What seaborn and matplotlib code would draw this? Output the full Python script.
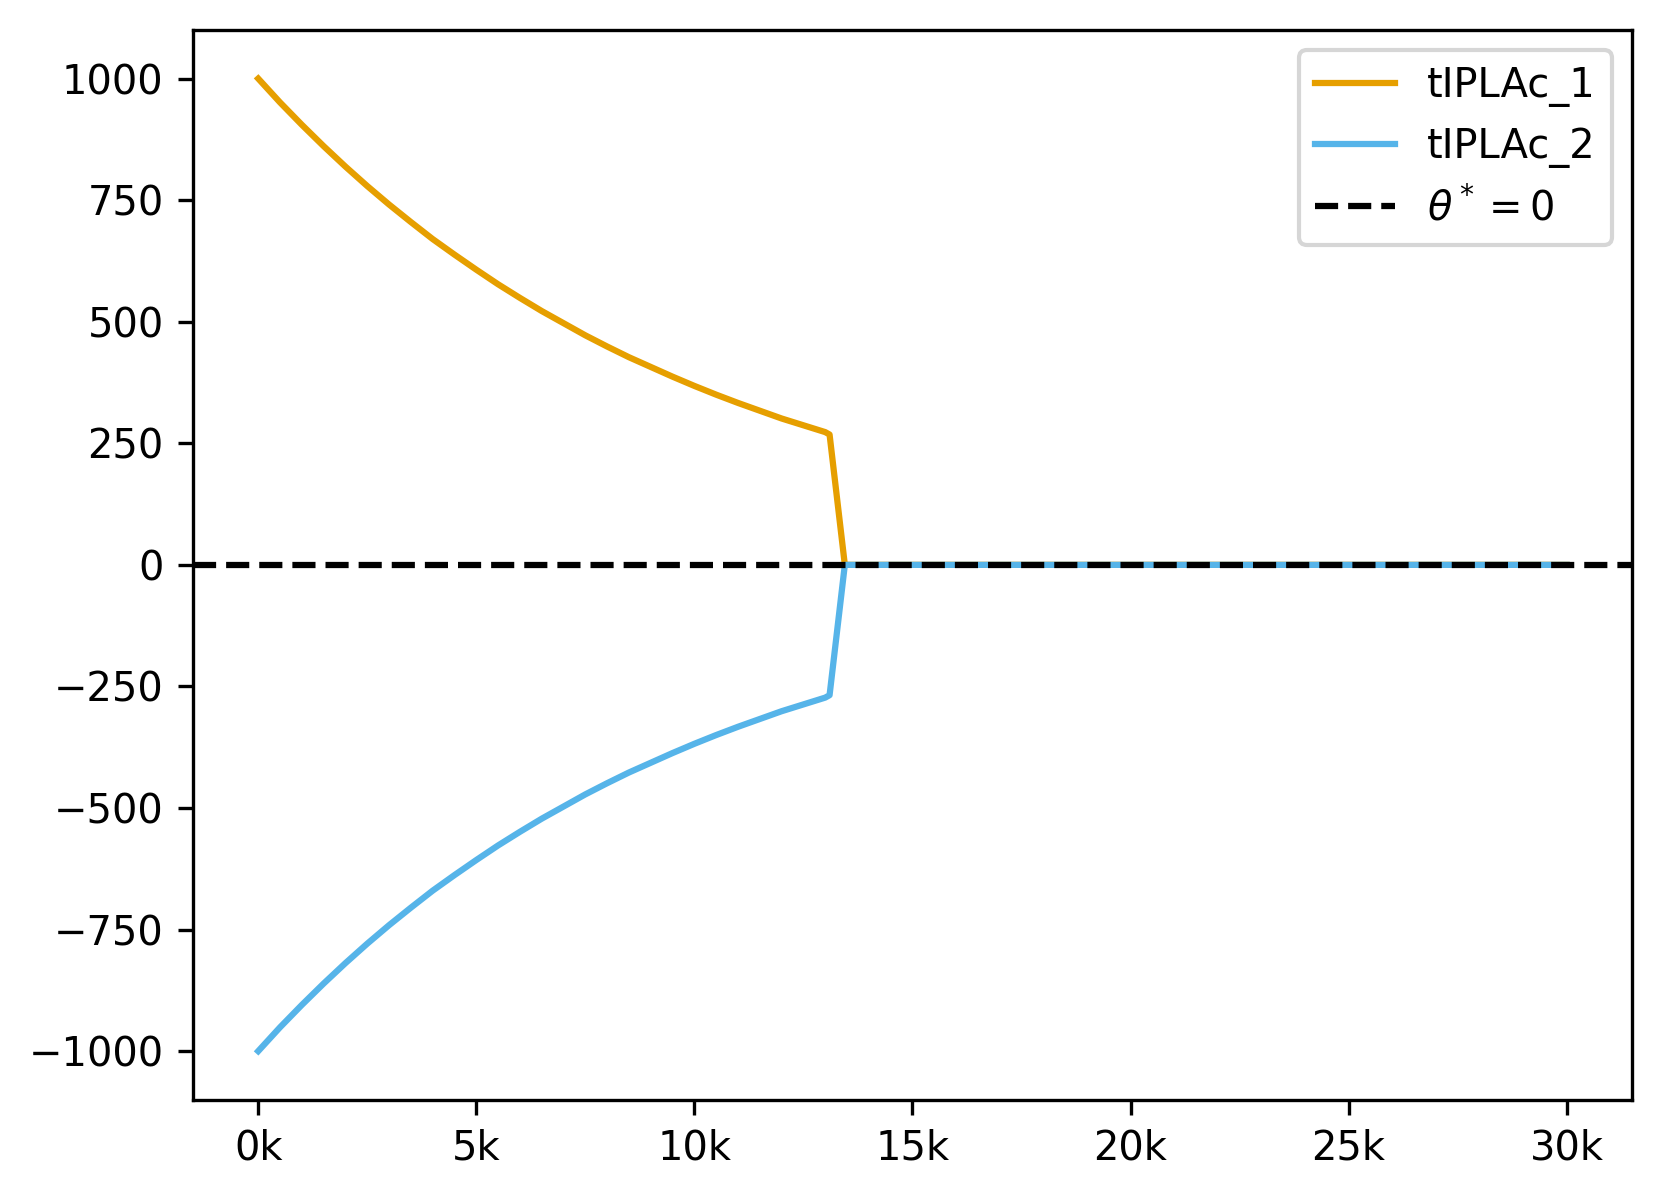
import matplotlib
matplotlib.use("Agg")
import matplotlib.pyplot as plt
import seaborn as sns
import pandas as pd
from matplotlib.ticker import FuncFormatter

steps = [0, 500, 1000, 1500, 2000, 2500, 3000, 3500, 4000, 4500, 5000,
         5500, 6000, 6500, 7000, 7500, 8000, 8500, 9000, 9500, 10000,
         10500, 11000, 11500, 12000, 12500, 13000, 13100, 13450, 30000]
tiplac_1 = [1000, 951, 905, 861, 819, 779, 741, 705, 670, 638, 607,
            577, 549, 522, 497, 472, 449, 427, 407, 387, 368,
            350, 333, 317, 301, 287, 273, 268, 0, 0]
tiplac_2 = [-v for v in tiplac_1]
series_names = ["tIPLAc_1", "tIPLAc_2"]
colors = ["#E69F00", "#56B4E9"]
theta_star = 0

df = pd.concat([
    pd.DataFrame({"step": steps, "value": tiplac_1, "series": series_names[0]}),
    pd.DataFrame({"step": steps, "value": tiplac_2, "series": series_names[1]}),
])

plt.rcParams["font.size"] = 9.6

fig, ax = plt.subplots(figsize=(1662 / 300, 1198 / 300), dpi=300)
fig.subplots_adjust(left=0.116, right=0.982, top=0.975, bottom=0.082)

sns.lineplot(data=df, x="step", y="value", hue="series", palette=colors,
             estimator=None, sort=False, linewidth=1.5, ax=ax)
ax.axhline(theta_star, color="black", linestyle="--", linewidth=1.5,
           label=r"$\theta^*=0$")

ax.set_xlabel("")
ax.set_ylabel("")
ax.set_ylim(-1100, 1100)
ax.set_yticks([-1000, -750, -500, -250, 0, 250, 500, 750, 1000])
ax.xaxis.set_major_formatter(FuncFormatter(lambda x, p: f"{x/1000:.0f}k"))
handles, labels = ax.get_legend_handles_labels()
ax.legend(handles, labels, loc="upper right")

fig.savefig("out.png", dpi=300)
